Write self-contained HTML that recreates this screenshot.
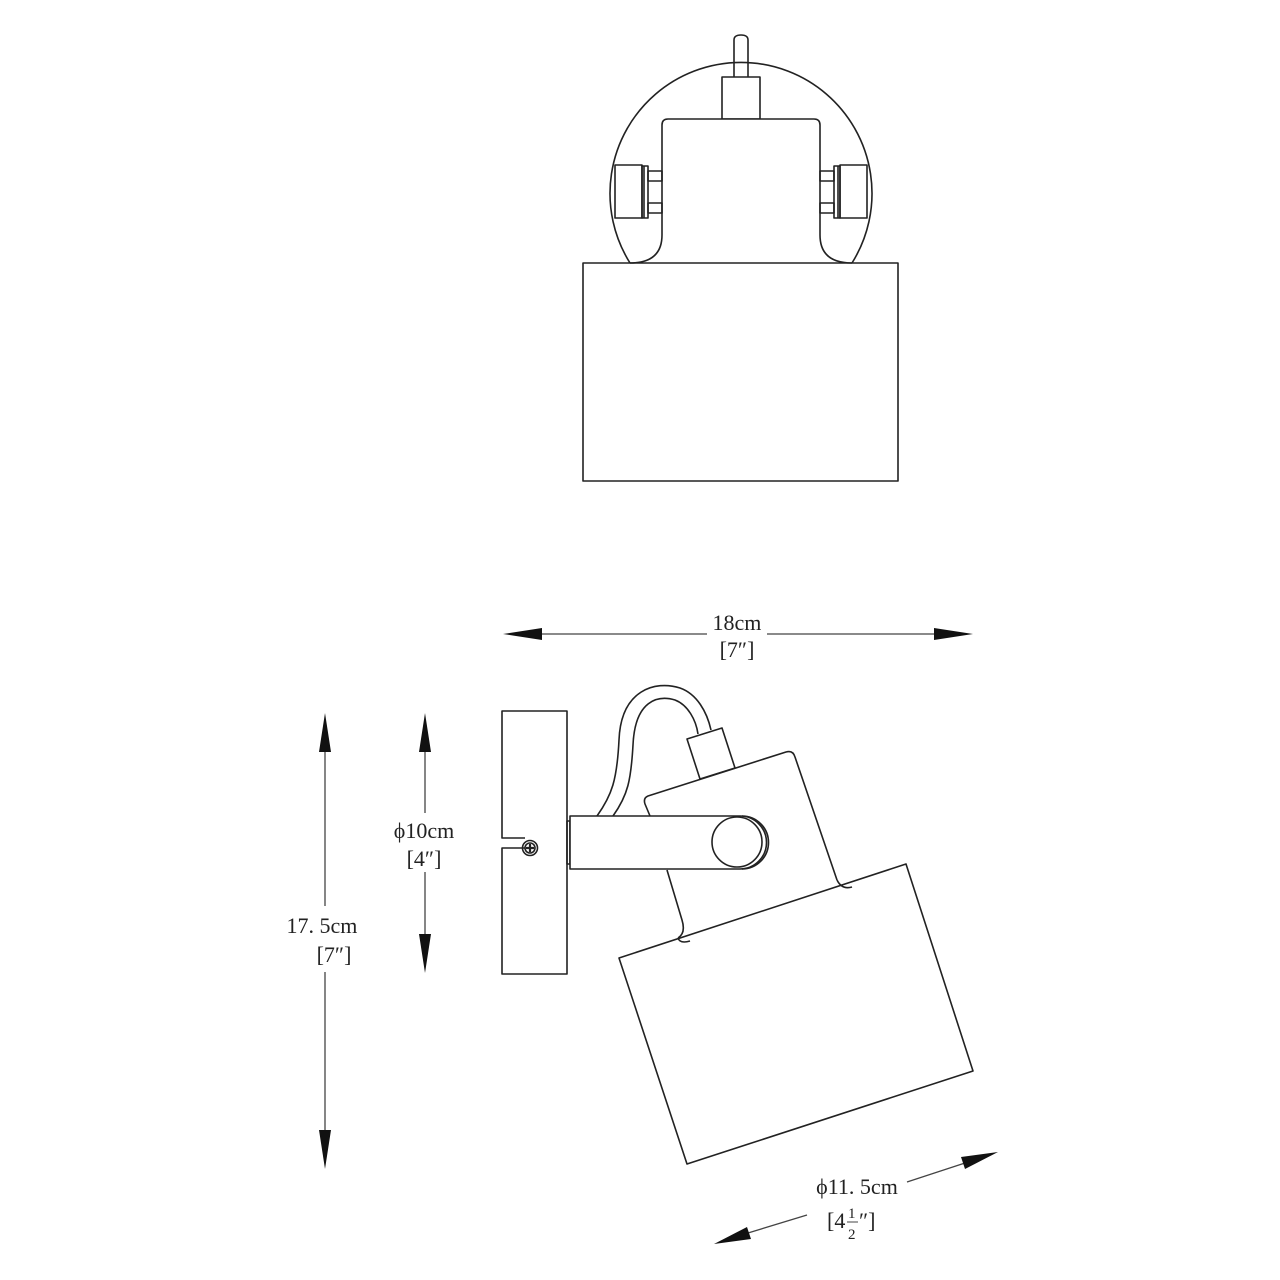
<!DOCTYPE html>
<html><head><meta charset="utf-8"><style>
html,body{margin:0;padding:0;background:#fff;}
svg{display:block;}
text{font-family:"Liberation Serif","Noto Serif CJK SC",serif;fill:#222;}
</style></head><body>
<svg width="1280" height="1280" viewBox="0 0 1280 1280" xmlns="http://www.w3.org/2000/svg">
<g fill="none" stroke="#222" stroke-width="1.6" stroke-linejoin="round">
<!-- TOP VIEW -->
<path d="M630,263 A131,131 0 1 1 852,263"/>
<path d="M734,77 V40 Q734,35 741,35 Q748,35 748,40 V77"/>
<rect x="722" y="77" width="38" height="42"/>
<path d="M630,263 Q662,263 662,235 V125 Q662,119 668,119 H814 Q820,119 820,125 V235 Q820,263 852,263" fill="#fff"/>
<rect x="615" y="165" width="27" height="53"/>
<rect x="642" y="166" width="6" height="52"/>
<line x1="644" y1="166" x2="644" y2="218"/>
<rect x="648" y="171" width="14" height="10"/>
<rect x="648" y="203" width="14" height="10"/>
<rect x="840" y="165" width="27" height="53"/>
<rect x="834" y="166" width="6" height="52"/>
<line x1="838" y1="166" x2="838" y2="218"/>
<rect x="820" y="171" width="14" height="10"/>
<rect x="820" y="203" width="14" height="10"/>
<rect x="583" y="263" width="315" height="218"/>

<!-- SIDE VIEW -->
<path d="M525,838 H502 V711 H567 V974 H502 V848 H525"/>
<circle cx="530" cy="848" r="7.5"/>
<circle cx="530" cy="848" r="5"/>
<path d="M526,848 H534 M530,844 V852" stroke-width="2.2"/>
<rect x="567" y="821" width="3" height="43"/>
<path d="M597,816 C612,795 617,780 619,740 C621,690 655,680 680,688 C697,694 707,712 711,730"/>
<path d="M613,816 C628,795 631,780 633,745 C635,700 658,695 675,700 C688,705 696,720 698,734"/>
<polygon points="687,739 722,728 735,768 700,779" fill="#fff"/>
<path d="M837,880 L795,757 Q793,750 786,752 L648,796 Q643,798 645,804 L650,816"/>
<path d="M667,870 L682,920 Q686,933 678,938"/>
<polygon points="619,958 906,864 973,1071 687,1164" fill="#fff"/>
<path d="M678,938 Q680,944 690,941" />
<path d="M837,880 Q842,890 852,887"/>
<path d="M570,816 H740 A26.5,26.5 0 0 1 740,869 H570 Z" fill="#fff"/>
<path d="M742,816 A26.5,26.5 0 0 1 742,869"/>
<circle cx="737" cy="842" r="25"/>
</g>

<g stroke="#444" stroke-width="1.3" fill="none">
<line x1="540" y1="634" x2="707" y2="634"/>
<line x1="767" y1="634" x2="935" y2="634"/>
<line x1="325" y1="750" x2="325" y2="906"/>
<line x1="325" y1="972" x2="325" y2="1132"/>
<line x1="425" y1="750" x2="425" y2="813"/>
<line x1="425" y1="872" x2="425" y2="935"/>
<line x1="907" y1="1182" x2="965" y2="1163"/>
<line x1="807" y1="1215" x2="748" y2="1233"/>
</g>
<g fill="#111">
<polygon points="503,634 542,628 542,640"/>
<polygon points="973,634 934,628 934,640"/>
<polygon points="325,713 319,752 331,752"/>
<polygon points="325,1169 319,1130 331,1130"/>
<polygon points="425,713 419,752 431,752"/>
<polygon points="425,973 419,934 431,934"/>
<polygon points="998,1152 961,1157 965,1169"/>
<polygon points="714,1244 747,1227 751,1239"/>
</g>
<g font-size="22" text-anchor="middle">
<text x="737" y="630">18cm</text>
<text x="737" y="657">[7″]</text>
<text x="322" y="933">17. 5cm</text>
<text x="334" y="962">[7″]</text>
<text x="424" y="838">ϕ10cm</text>
<text x="424" y="866">[4″]</text>
<text x="857" y="1194">ϕ11. 5cm</text>
</g>
<g font-size="22">
<text x="827" y="1228">[4</text>
<text x="848" y="1218" font-size="15">1</text>
<line x1="847" y1="1222" x2="858" y2="1222" stroke="#444" stroke-width="1"/>
<text x="848" y="1239" font-size="15">2</text>
<text x="859" y="1228">″]</text>
</g>
</svg>
</body></html>
